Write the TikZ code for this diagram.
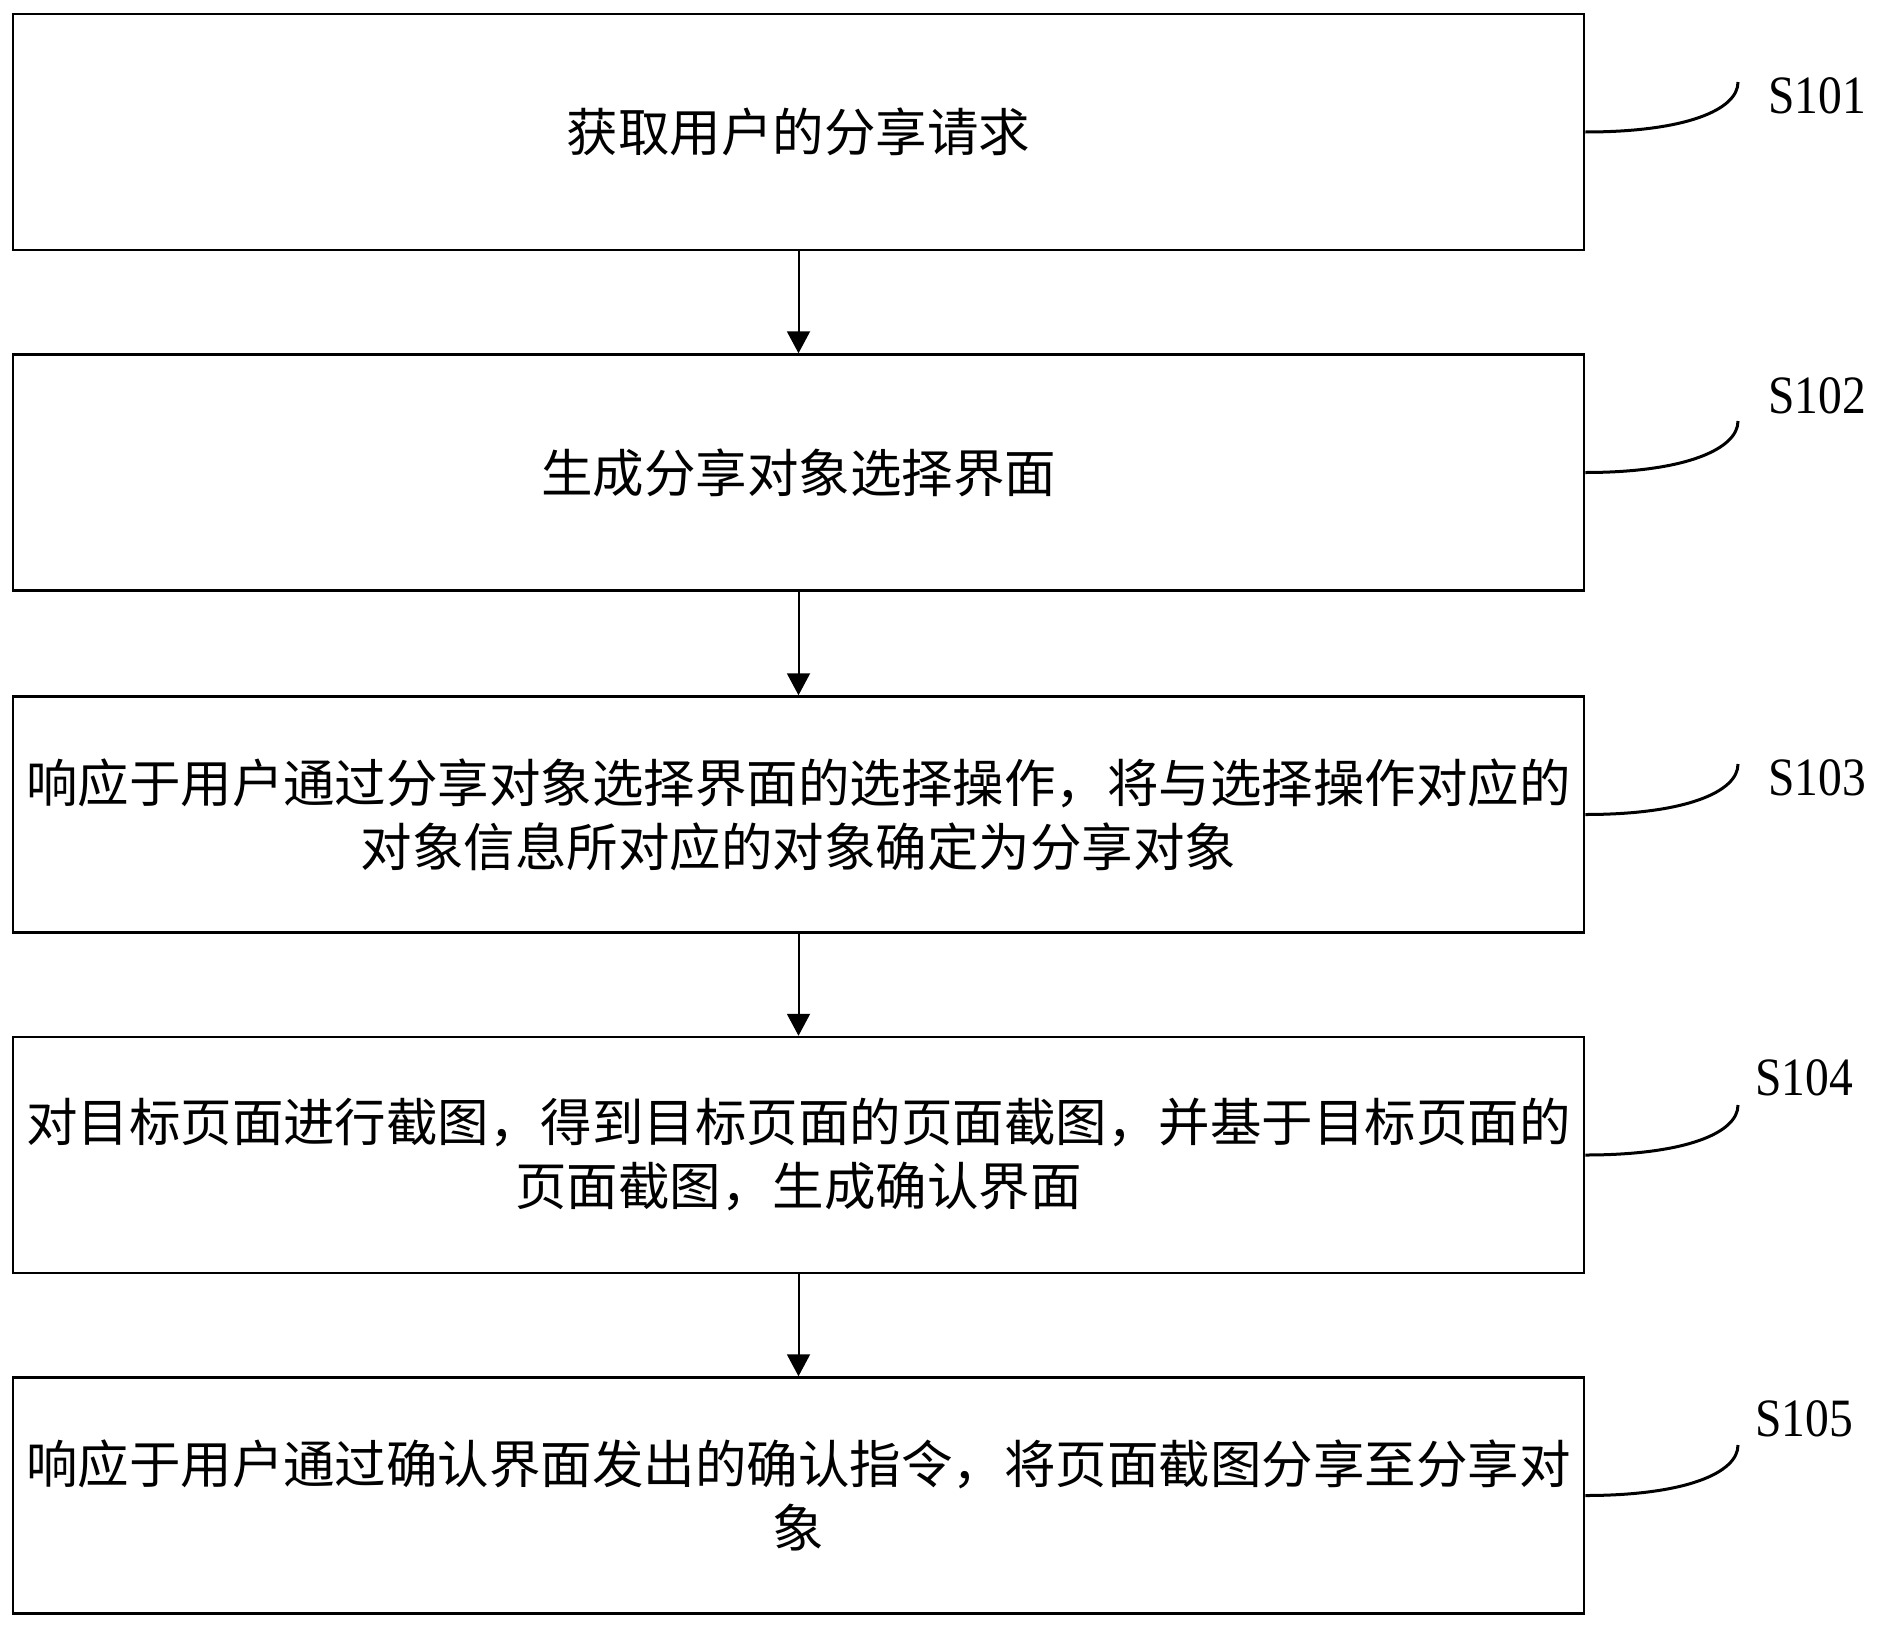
\documentclass[tikz,border=0pt]{standalone}
\usepackage{fontspec}
\newfontfamily\cjk{Noto Sans CJK SC}
\newfontfamily\lblfont[FakeStretch=0.88]{Liberation Serif}
\usetikzlibrary{arrows.meta}
\begin{document}
\begin{tikzpicture}[x=1pt,y=-1pt,
  stepbox/.style={draw=black, line width=2.5pt, rectangle, minimum width=1571pt, minimum height=236pt,
    inner sep=0pt, align=center, font=\cjk\fontsize{51.5}{64}\selectfont},
  flow/.style={line width=2pt, -{Triangle[width=23pt,length=22pt]}},
  leader/.style={line width=3pt},
  lbl/.style={anchor=west, inner sep=0pt, font=\lblfont\fontsize{54}{60}\selectfont}]
\useasboundingbox[fill=white] (0,0) rectangle (1882,1630);
\node[stepbox] (b1) at (798.5,132) {获取用户的分享请求};
\node[stepbox] (b2) at (798.5,472.5) {生成分享对象选择界面};
\node[stepbox] (b3) at (798.5,814.5) {响应于用户通过分享对象选择界面的选择操作，将与选择操作对应的\\对象信息所对应的对象确定为分享对象};
\node[stepbox] (b4) at (798.5,1155) {对目标页面进行截图，得到目标页面的页面截图，并基于目标页面的\\页面截图，生成确认界面};
\node[stepbox] (b5) at (798.5,1495.5) {响应于用户通过确认界面发出的确认指令，将页面截图分享至分享对\\象};
\draw[flow] (b1) -- (b2);
\draw[flow] (b2) -- (b3);
\draw[flow] (b3) -- (b4);
\draw[flow] (b4) -- (b5);
\coordinate (c1) at (1738,82);
\coordinate (c2) at (1738,421);
\coordinate (c3) at (1738,764);
\coordinate (c4) at (1738,1105);
\coordinate (c5) at (1738,1445);
\foreach \i in {1,...,5}{
  \draw[leader] (b\i.east) .. controls +(100,0) and +(0,28) .. (c\i);
}
\node[lbl] (l1) at (1768,96) {S101};
\node[lbl] (l2) at (1768,396) {S102};
\node[lbl] (l3) at (1768,778) {S103};
\node[lbl] (l4) at (1755,1078) {S104};
\node[lbl] (l5) at (1755,1419) {S105};
\end{tikzpicture}
\end{document}
